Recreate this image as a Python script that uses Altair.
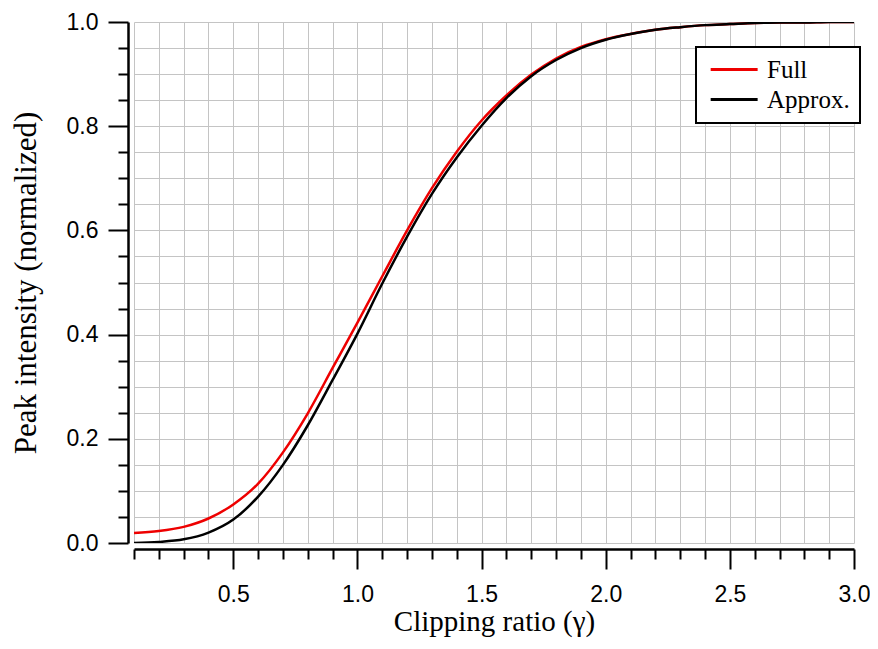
import altair as alt
import pandas as pd

gamma = [0.1, 0.2, 0.3, 0.4, 0.5, 0.6, 0.7, 0.8, 0.9, 1.0,
         1.1, 1.2, 1.3, 1.4, 1.5, 1.6, 1.7, 1.8, 1.9, 2.0,
         2.1, 2.2, 2.3, 2.4, 2.5, 2.6, 2.7, 2.8, 2.9, 3.0]

full = [0.019, 0.023, 0.031, 0.047, 0.074, 0.114, 0.174, 0.249, 0.336, 0.423,
        0.512, 0.600, 0.681, 0.751, 0.811, 0.859, 0.899, 0.930, 0.952, 0.967,
        0.977, 0.985, 0.990, 0.994, 0.996, 0.998, 0.999, 0.999, 1.000, 1.000]

approx = [0.000, 0.002, 0.007, 0.020, 0.045, 0.089, 0.150, 0.226, 0.313, 0.402,
          0.498, 0.588, 0.670, 0.740, 0.801, 0.854, 0.896, 0.927, 0.950, 0.966,
          0.977, 0.985, 0.990, 0.994, 0.996, 0.998, 0.999, 0.999, 1.000, 1.000]

series_names = ["Full", "Approx."]
series_colors = ["#ee0000", "#000000"]

x_ticks = [0.1, 0.2, 0.3, 0.4, 0.5, 0.6, 0.7, 0.8, 0.9, 1.0,
           1.1, 1.2, 1.3, 1.4, 1.5, 1.6, 1.7, 1.8, 1.9, 2.0,
           2.1, 2.2, 2.3, 2.4, 2.5, 2.6, 2.7, 2.8, 2.9, 3.0]
y_ticks = [0.0, 0.05, 0.1, 0.15, 0.2, 0.25, 0.3, 0.35, 0.4, 0.45, 0.5,
           0.55, 0.6, 0.65, 0.7, 0.75, 0.8, 0.85, 0.9, 0.95, 1.0]

df = pd.concat([
    pd.DataFrame({"gamma": gamma, "value": full, "series": series_names[0]}),
    pd.DataFrame({"gamma": gamma, "value": approx, "series": series_names[1]}),
])

x_major = "abs(datum.value*2 - round(datum.value*2)) < 1e-6"
y_major = "abs(datum.value*5 - round(datum.value*5)) < 1e-6"

chart = alt.Chart(df).mark_line(strokeWidth=2.5, clip=True, interpolate="monotone").encode(
    x=alt.X("gamma:Q",
            scale=alt.Scale(domain=[0.1, 3.0], nice=False, zero=False),
            axis=alt.Axis(
                values=x_ticks, title="Clipping ratio (γ)",
                grid=True, gridColor="#c4c4c4", gridWidth=1,
                offset=6, domainColor="black", domainWidth=2.5,
                tickColor="black", tickWidth=2,
                tickSize={"condition": {"test": x_major, "value": 20}, "value": 10},
                labelExpr=f"({x_major}) ? format(datum.value, '.1f') : ''",
                labelFont="Liberation Sans", labelFontSize=23, labelColor="black",
                labelPadding=14, labelFlush=False, labelOverlap=False,
                titleFont="Liberation Serif", titleFontSize=29,
                titleFontWeight="normal", titleColor="black", titlePadding=1,
            )),
    y=alt.Y("value:Q",
            scale=alt.Scale(domain=[0, 1], nice=False),
            axis=alt.Axis(
                values=y_ticks, title="Peak intensity (normalized)",
                grid=True, gridColor="#c4c4c4", gridWidth=1,
                offset=6, domainColor="black", domainWidth=2.5,
                tickColor="black", tickWidth=2,
                tickSize={"condition": {"test": y_major, "value": 20}, "value": 10},
                labelExpr=f"({y_major}) ? format(datum.value, '.1f') : ''",
                labelFont="Liberation Sans", labelFontSize=23, labelColor="black",
                labelPadding=10, labelFlush=False, labelOverlap=False,
                titleFont="Liberation Serif", titleFontSize=31,
                titleFontWeight="normal", titleColor="black", titlePadding=24,
            )),
    color=alt.Color("series:N",
                    scale=alt.Scale(domain=series_names, range=series_colors),
                    sort=series_names,
                    legend=alt.Legend(
                        title=None, orient="none", legendX=562, legendY=25,
                        strokeColor="black", fillColor="white", padding=10,
                        cornerRadius=0,
                        symbolType="M-1,0H5", symbolSize=245, symbolStrokeWidth=3,
                        labelFont="Liberation Serif", labelFontSize=25,
                        labelColor="black", labelOffset=36, rowPadding=4,
                    )),
).properties(
    width=720, height=521,
    autosize=alt.AutoSizeParams(type="none"),
    padding={"left": 126, "top": 14, "right": 16, "bottom": 98},
).configure_view(stroke=None).configure_legend(strokeWidth=2)

chart.save("out.html", embed_options={"renderer": "svg", "actions": False})
